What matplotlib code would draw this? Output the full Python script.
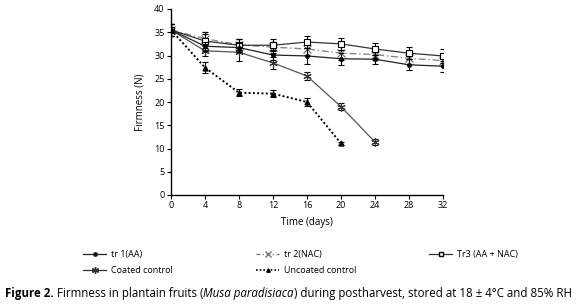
import matplotlib.pyplot as plt
from matplotlib.lines import Line2D

days = [0, 4, 8, 12, 16, 20, 24, 28, 32]
days_coated = [0, 4, 8, 12, 16, 20, 24]
days_uncoated = [0, 4, 8, 12, 16, 20]

tr1 = [35.5, 32.0, 31.7, 30.1, 29.9, 29.3, 29.2, 28.0, 27.7]
tr1_err = [1.2, 1.0, 1.0, 1.0, 1.8, 1.3, 1.0, 1.2, 1.2]
tr2 = [35.5, 33.6, 32.3, 31.8, 31.4, 30.5, 30.2, 29.4, 28.9]
tr2_err = [1.2, 1.5, 1.2, 1.2, 1.3, 1.5, 1.2, 1.2, 1.2]
tr3 = [35.5, 33.1, 32.2, 32.2, 32.9, 32.5, 31.4, 30.5, 29.9]
tr3_err = [1.2, 1.5, 1.3, 1.3, 1.3, 1.3, 1.3, 1.3, 1.5]
coated = [35.5, 31.0, 30.7, 28.4, 25.6, 19.0, 11.4]
coated_err = [1.2, 1.2, 1.8, 1.2, 0.8, 0.8, 0.6]
uncoated = [35.5, 27.4, 22.0, 21.8, 20.0, 11.1]
uncoated_err = [1.2, 1.2, 0.8, 0.8, 0.8, 0.4]

x_ticks = [0, 4, 8, 12, 16, 20, 24, 28, 32]
y_ticks = [0, 5, 10, 15, 20, 25, 30, 35, 40]

caption_parts = [
    ('Figure 2.', 'bold', 'normal'),
    (' Firmness in plantain fruits (', 'normal', 'normal'),
    ('Musa paradisiaca', 'normal', 'italic'),
    (') during postharvest, stored at 18 ± 4°C and 85% RH', 'normal', 'normal'),
]

plt.rcParams['font.family'] = ['Open Sans', 'DejaVu Sans']

fig = plt.figure(figsize=(5.8, 3.04), dpi=100)
ax = fig.add_axes([171 / 580, 1 - 195 / 304, (443 - 171) / 580, (195 - 9) / 304])

eb = dict(capsize=2.5, elinewidth=0.8, capthick=0.8, ecolor='black')

ax.errorbar(days, tr3, yerr=tr3_err, color='#333333', lw=0.9, marker='s',
            ms=4.5, mfc='white', mec='black', mew=0.8, zorder=3, **eb)
ax.errorbar(days, tr2, yerr=tr2_err, color='#888888', lw=1.0, ls=(0, (5, 2, 1, 2)),
            marker='x', ms=6, mec='#777777', mew=0.9, zorder=2, **eb)
ax.errorbar(days, tr1, yerr=tr1_err, color='#222222', lw=0.9, marker='o',
            ms=2.5, mfc='black', mec='black', zorder=4, **eb)
ax.errorbar(days_coated, coated, yerr=coated_err, color='#555555', lw=0.9,
            marker=(6, 2, 0), ms=6, mec='#333333', mew=0.8, zorder=3, **eb)
ax.errorbar(days_uncoated, uncoated, yerr=uncoated_err, color='black', lw=1.4,
            ls=(0, (1, 1.2)), marker='^', ms=3.5, mfc='black', mec='black', zorder=4, **eb)

ax.set_xlim(0, 32)
ax.set_ylim(0, 40)
ax.set_xticks(x_ticks)
ax.set_yticks(y_ticks)
ax.spines['top'].set_visible(False)
ax.spines['right'].set_visible(False)
ax.spines['left'].set_linewidth(1.0)
ax.spines['bottom'].set_linewidth(1.0)
ax.tick_params(direction='out', length=3, width=0.8, labelsize=6.5, pad=1.5)
ax.set_ylabel('Firmness (N)', fontsize=7, labelpad=6)
ax.set_xlabel('Time (days)', fontsize=7, labelpad=5)

# legend entries
h_tr1 = Line2D([], [], color='#222222', lw=0.9, marker='o', ms=2.5, mfc='black')
h_tr2 = Line2D([], [], color='#777777', lw=0.9, ls=(0, (3, 2, 1, 2)), marker='x', ms=5, mec='#777777')
h_tr3 = Line2D([], [], color='#333333', lw=0.9, marker='s', ms=3.5, mfc='white', mec='black')
h_coated = Line2D([], [], color='#333333', lw=0.9, marker=(6, 2, 0), ms=5, mec='#333333')
h_uncoated = Line2D([], [], color='black', lw=1.2, ls=(0, (1, 1.2)), marker='^', ms=2.5, mfc='black')

leg_kw = dict(frameon=False, fontsize=6.5, handlelength=2.6, handletextpad=0.5,
              labelspacing=0.75, borderaxespad=0, borderpad=0)
fig.legend([h_tr1, h_coated], ['tr 1(AA)', 'Coated control'], loc='upper left',
           bbox_to_anchor=(83 / 580, 1 - 250 / 304), **leg_kw)
fig.legend([h_tr2, h_uncoated], ['tr 2(NAC)', 'Uncoated control'], loc='upper left',
           bbox_to_anchor=(256 / 580, 1 - 250 / 304), **leg_kw)
fig.legend([h_tr3], ['Tr3 (AA + NAC)'], loc='upper left',
           bbox_to_anchor=(429 / 580, 1 - 250 / 304), **leg_kw)

# caption built from pieces so bold / italic share one font
renderer = fig.canvas.get_renderer()
x = 5 / 580
for txt, weight, style in caption_parts:
    t = fig.text(x, 1 - 293 / 304, txt, fontsize=8.3, weight=weight, style=style,
                 va='center', ha='left')
    bb = t.get_window_extent(renderer=renderer)
    x = (bb.x1) / fig.bbox.width

fig.savefig('out.png', dpi=100)
